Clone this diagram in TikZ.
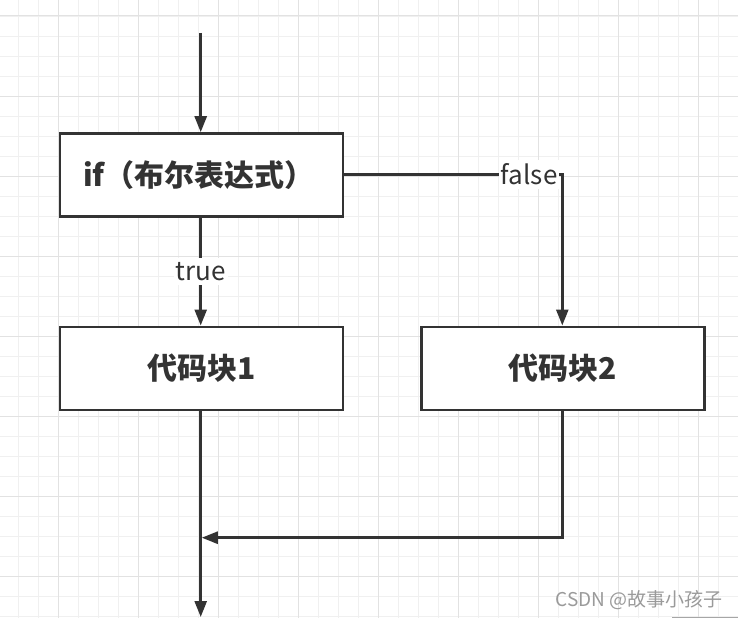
\documentclass[tikz,border=0pt]{standalone}
\usepackage{fontspec}
\setmainfont{Noto Sans CJK SC}
\usetikzlibrary{arrows.meta}
\definecolor{ink}{HTML}{333333}
\definecolor{gridminor}{HTML}{F0F0F0}
\definecolor{gridmajor}{HTML}{E2E2E2}
\definecolor{wm}{HTML}{9A9A9A}
\tikzset{
  gminor/.style={draw=gridminor, line width=0.9pt},
  gmajor/.style={draw=gridmajor, line width=1pt},
  procbox/.style={draw=ink, line width=2.6pt, fill=white, minimum width=283pt, minimum height=83pt, inner sep=0pt, text=ink, font=\fontsize{30}{34}\selectfont\bfseries},
  conn/.style={draw=ink, line width=2.6pt, -{Triangle[length=16pt,width=12pt]}},
  lbl/.style={fill=white, text=ink, inner xsep=2pt, inner ysep=4pt, font=\fontsize{26}{30}\selectfont},
}
\begin{document}
\begin{tikzpicture}[x=1pt,y=-1pt]
\useasboundingbox (0,0) rectangle (738,618);
\fill[white] (0,0) rectangle (738,618);
% grid
\foreach \i in {0,...,35} \draw[gminor] ({18.3+20*\i},0) -- ({18.3+20*\i},618);
\foreach \j in {0,...,30} \draw[gminor] (0,{16+20*\j}) -- (738,{16+20*\j});
\foreach \i in {0,...,8} \draw[gmajor] ({58.3+80*\i},0) -- ({58.3+80*\i},618);
\foreach \j in {0,...,7} \draw[gmajor] (0,{16+80*\j}) -- (738,{16+80*\j});
% nodes
\coordinate (start) at (200.7,33);
\node[procbox, text width=237pt, inner xsep=23pt, align=left] (ifbox) at (201.5,175) {if（布尔表达式）};
\node[procbox] (b1) at (201.5,368.3) {代码块1};
\node[procbox] (b2) at (562.7,368.3) {代码块2};
\coordinate (endpt) at (200.7,617);
\coordinate (merge) at (201.8,537.7);
% connectors
\draw[conn] (start) -- (start |- ifbox.north);
\draw[conn] (ifbox.south -| start) -- node[lbl] {true} (b1.north -| start);
\draw[conn] (ifbox.east |- 0,174.3) -| node[lbl, pos=0.424] {false} (b2.north -| 562.3,0);
\draw[conn] (b1.south -| start) -- (endpt);
\draw[conn] (b2.south -| 562.3,0) |- (merge);
% watermark
\node[text=wm, font=\fontsize{19}{22}\selectfont, anchor=base east, inner sep=0pt] (wmark) at (723,606) {CSDN @故事小孩子};
\draw[draw=gray!70, line width=1pt] (672,617.5) -- (738,617.5);
\end{tikzpicture}
\end{document}
